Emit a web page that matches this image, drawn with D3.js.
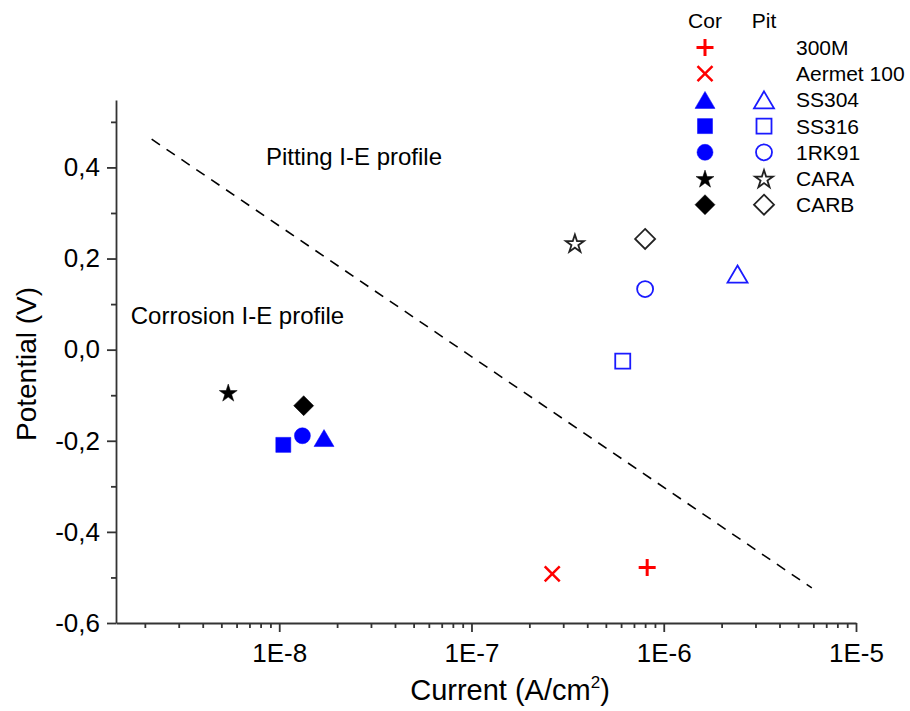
<!DOCTYPE html>
<html>
<head>
<meta charset="utf-8">
<script src="https://cdn.jsdelivr.net/npm/d3@7"></script>
<style>
  body { margin: 0; background: #fff; }
  text { font-family: "Liberation Sans", Arial, sans-serif; fill: #000; }
</style>
</head>
<body>
<svg id="drawing_region"></svg>
<script>
// materials and measured points (current in A/cm2, potential in V)
const materials = ['300M', 'Aermet 100', 'SS304', 'SS316', '1RK91', 'CARA', 'CARB'];
const shapes = ['plus', 'cross', 'triangle', 'square', 'circle', 'star', 'diamond'];
const colors = ['#ff0000', '#ff0000', '#0000ff', '#0000ff', '#0000ff', '#000000', '#000000'];
const corCurrent = [8.2e-7, 2.63e-7, 1.71e-8, 1.05e-8, 1.32e-8, 5.43e-9, 1.34e-8];
const corPotential = [-0.478, -0.492, -0.194, -0.209, -0.189, -0.094, -0.123];
const pitCurrent = [null, null, 2.42e-6, 6.12e-7, 8.0e-7, 3.45e-7, 8.0e-7];
const pitPotential = [null, null, 0.166, -0.025, 0.133, 0.234, 0.243];

// dashed boundary between the two profiles
const boundaryCurrent = [2.17e-9, 5.89e-6];
const boundaryPotential = [0.462, -0.523];

const xTicks = [1e-8, 1e-7, 1e-6, 1e-5];
const yTicks = [-0.6, -0.4, -0.2, 0.0, 0.2, 0.4];
const yMinorTicks = [-0.5, -0.3, -0.1, 0.1, 0.3, 0.5];

const labels = [
    { text: 'Pitting I-E profile', x: 8.53e-9, y: 0.406 },
    { text: 'Corrosion I-E profile', x: 1.69e-9, y: 0.057 }
];

const width = 910, height = 711;
const svg = d3.select('#drawing_region')
    .attr('width', width)
    .attr('height', height);

const xscale = d3.scaleLog()
    .domain([Math.pow(10, -8.849), 1e-5])
    .range([116, 856]);
const yscale = d3.scaleLinear()
    .domain([-0.6, 0.548])
    .range([623, 100]);

// minor ticks for the log axis
let xMinor = [];
for (let e = -9; e <= -6; e++) {
    for (let m = 2; m <= 9; m++) {
        const v = m * Math.pow(10, e);
        if (v >= xscale.domain()[0] && v <= 1e-5) xMinor.push(v);
    }
}

const yfmt = d => d.toFixed(1).replace('-0,0', '0,0').replace('.', ',');
const xfmt = d => '1E' + Math.round(Math.log10(d));

// minor ticks
svg.append('g')
    .attr('transform', 'translate(0,623)')
    .call(d3.axisBottom(xscale).tickValues(xMinor).tickSize(5).tickFormat(''))
    .call(g => g.select('.domain').remove());
svg.append('g')
    .attr('transform', 'translate(116,0)')
    .call(d3.axisLeft(yscale).tickValues(yMinorTicks).tickSize(5).tickFormat(''))
    .call(g => g.select('.domain').remove());

const xaxis_group = svg.append('g')
    .attr('transform', 'translate(0,623)')
    .call(d3.axisBottom(xscale).tickValues(xTicks).tickSize(9).tickSizeOuter(0).tickPadding(8).tickFormat(xfmt));
const yaxis_group = svg.append('g')
    .attr('transform', 'translate(116,0)')
    .call(d3.axisLeft(yscale).tickValues(yTicks).tickSize(9).tickSizeOuter(0).tickPadding(7).tickFormat(yfmt));

svg.selectAll('.tick line, .domain')
    .attr('stroke', '#333')
    .attr('stroke-width', 1.8);
svg.selectAll('.tick text')
    .style('font-family', '"Liberation Sans", Arial, sans-serif')
    .style('font-size', '26px')
    .attr('fill', '#000');
xaxis_group.selectAll('.tick text').attr('dy', '0.85em');

// axis titles
svg.append('text')
    .attr('transform', 'translate(36,364) rotate(-90)')
    .attr('text-anchor', 'middle')
    .style('font-size', '28px')
    .text('Potential (V)');

const xt = svg.append('text')
    .attr('x', 510)
    .attr('y', 700)
    .attr('text-anchor', 'middle')
    .style('font-size', '29px');
xt.append('tspan').text('Current (A/cm');
xt.append('tspan').attr('dy', -12).style('font-size', '17px').text('2');
xt.append('tspan').attr('dy', 12).text(')');

// boundary line
svg.append('line')
    .attr('x1', xscale(boundaryCurrent[0]))
    .attr('y1', yscale(boundaryPotential[0]))
    .attr('x2', xscale(boundaryCurrent[1]))
    .attr('y2', yscale(boundaryPotential[1]))
    .attr('stroke', '#000')
    .attr('stroke-width', 1.6)
    .attr('stroke-dasharray', '10,8');

svg.selectAll('.region-label')
    .data(labels)
    .join('text')
    .attr('class', 'region-label')
    .attr('x', d => xscale(d.x))
    .attr('y', d => yscale(d.y))
    .style('font-size', '24px')
    .text(d => d.text);

// symbol paths centred on 0,0
function symbolPath(shape) {
    switch (shape) {
        case 'plus': return 'M-8.5,0L8.5,0M0,-8.5L0,8.5';
        case 'cross': return 'M-7.5,-7.5L7.5,7.5M-7.5,7.5L7.5,-7.5';
        case 'triangle': return 'M0,-8.5L10,8.5L-10,8.5Z';
        case 'square': return 'M-7.5,-7.5L7.5,-7.5L7.5,7.5L-7.5,7.5Z';
        case 'circle': return 'M8,0A8,8,0,1,1,-8,0A8,8,0,1,1,8,0Z';
        case 'star': return d3.symbol(d3.symbolStar, 100)();
        case 'diamond': return 'M0,-10L10,0L0,10L-10,0Z';
    }
}

function drawMarker(g, shape, color, filled) {
    const p = g.append('path').attr('d', symbolPath(shape));
    if (shape === 'plus') {
        p.attr('fill', 'none').attr('stroke', color).attr('stroke-width', 3);
    } else if (shape === 'cross') {
        p.attr('fill', 'none').attr('stroke', color).attr('stroke-width', 2.5);
    } else if (filled) {
        p.attr('fill', color).attr('stroke', color).attr('stroke-width', 0.5);
    } else {
        p.attr('fill', 'none')
            .attr('stroke', color === '#000000' ? '#222' : '#1a1aff')
            .attr('stroke-width', 1.8);
    }
    if (shape === 'star') p.attr('transform', 'translate(0,1)');
}

const points = materials.map((m, i) => ({
    name: m, shape: shapes[i], color: colors[i],
    cx: corCurrent[i], cy: corPotential[i],
    px: pitCurrent[i], py: pitPotential[i]
}));

points.forEach(d => {
    drawMarker(svg.append('g').attr('transform', `translate(${xscale(d.cx)},${yscale(d.cy)})`), d.shape, d.color, true);
    if (d.px !== null) {
        drawMarker(svg.append('g').attr('transform', `translate(${xscale(d.px)},${yscale(d.py)})`), d.shape, d.color, false);
    }
});

// legend
const legend = svg.append('g');
legend.append('text').attr('x', 705).attr('y', 28).attr('text-anchor', 'middle').style('font-size', '21px').text('Cor');
legend.append('text').attr('x', 764).attr('y', 28).attr('text-anchor', 'middle').style('font-size', '21px').text('Pit');

points.forEach((d, i) => {
    const y = 47.5 + i * 26.2;
    drawMarker(legend.append('g').attr('transform', `translate(705,${y})`), d.shape, d.color, true);
    if (d.px !== null) {
        drawMarker(legend.append('g').attr('transform', `translate(764,${y})`), d.shape, d.color, false);
    }
    legend.append('text')
        .attr('x', 796)
        .attr('y', y + 7.5)
        .style('font-size', '21px')
        .text(d.name);
});
</script>
</body>
</html>
